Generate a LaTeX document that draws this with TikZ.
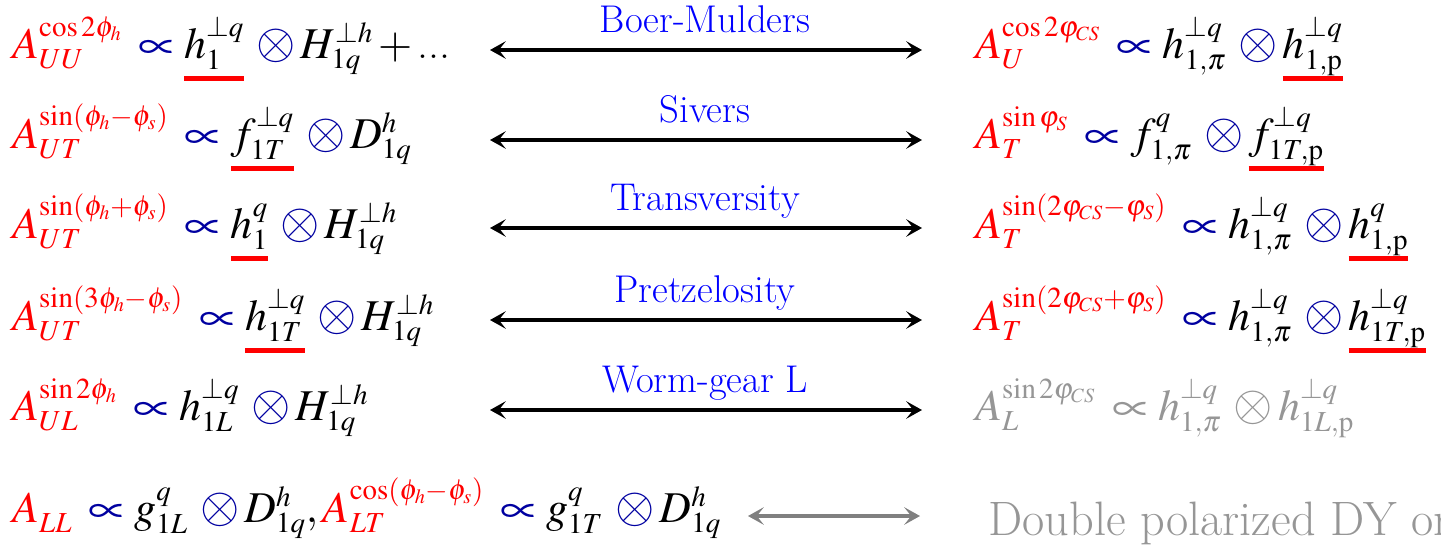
\documentclass[tikz,border=0pt]{standalone}
\usepackage{mathptmx}
\usepackage{xcolor}
\usepackage{graphicx}
\usetikzlibrary{arrows.meta}

\DeclareMathSizes{25}{25}{16.5}{11.5}
\medmuskip=2mu\relax
\thickmuskip=3.5mu\relax
\definecolor{labblue}{RGB}{0,0,255}
\definecolor{symblue}{RGB}{0,0,160}
\definecolor{asym}{RGB}{255,0,0}
\definecolor{fadegray}{RGB}{150,150,150}
\definecolor{linkgray}{RGB}{128,128,128}

% coloured symbols of the formulas
\newcommand{\pc}{\mkern3mu\mathrel{\textcolor{symblue}{\scalebox{1.2}[1.0]{$\propto$}}}}
\newcommand{\ox}{\mkern3mu\mathbin{\textcolor{symblue}{\scalebox{1.15}{$\otimes$}}}}
\newcommand{\Aa}[2]{{\color{asym}A_{#1}^{#2}}}
% red bar under a TMD
\newcommand{\ulr}[1]{\setbox0\hbox{$#1$}\dp0=0pt
  \vtop{\copy0\nointerlineskip\kern0.42em\hbox{\color{asym}\rule{\wd0}{2.5pt}}}}

\begin{document}
\begin{tikzpicture}[x=0.02cm, y=-0.02cm,
  formula/.style={anchor=base west, inner sep=0pt, font=\fontsize{25}{30}\selectfont},
  effect/.style={anchor=base, inner sep=0pt, text=labblue, font=\fontsize{22}{26}\selectfont},
  link/.style={{Stealth[length=9pt,width=10pt,inset=4pt]}-{Stealth[length=9pt,width=10pt,inset=4pt]}, line width=2.3pt}]
  \useasboundingbox (0,0) rectangle (1441,555);
  \clip (0,0) rectangle (1441,555);

  % SIDIS side
  \node[formula] (sidis1) at (12,58)
    {$\Aa{UU}{\cos 2\phi_h} \pc \ulr{h_1^{\perp q}} \ox H_{1q}^{\perp h} + \mbox{...}$};
  \node[formula] (sidis2) at (12,148)
    {$\Aa{UT}{\sin(\phi_h-\phi_s)} \pc \ulr{f_{1T}^{\perp q}} \ox D_{1q}^h$};
  \node[formula] (sidis3) at (12,238)
    {$\Aa{UT}{\sin(\phi_h+\phi_s)} \pc \ulr{h_1^q} \ox H_{1q}^{\perp h}$};
  \node[formula] (sidis4) at (12,330)
    {$\Aa{UT}{\sin(3\phi_h-\phi_s)} \pc \ulr{h_{1T}^{\perp q}} \ox H_{1q}^{\perp h}$};
  \node[formula] (sidis5) at (12,420)
    {$\Aa{UL}{\sin 2\phi_h} \pc h_{1L}^{\perp q} \ox H_{1q}^{\perp h}$};
  \node[formula] (sidis6) at (12,522)
    {$\Aa{LL}{} \pc g_{1L}^q \ox D_{1q}^h, \Aa{LT}{\cos(\phi_h-\phi_s)} \pc g_{1T}^q \ox D_{1q}^h$};

  % Drell-Yan side
  \node[formula] (dy1) at (975,58)
    {$\Aa{U}{\cos 2\varphi_{CS}} \pc h_{1,\pi}^{\perp q} \ox \ulr{h_{1,\mathrm{p}}^{\perp q}}$};
  \node[formula] (dy2) at (975,148)
    {$\Aa{T}{\sin\varphi_S} \pc f_{1,\pi}^q \ox \ulr{f_{1T,\mathrm{p}}^{\perp q}}$};
  \node[formula] (dy3) at (975,238)
    {$\Aa{T}{\sin(2\varphi_{CS}-\varphi_S)} \pc h_{1,\pi}^{\perp q} \ox \ulr{h_{1,\mathrm{p}}^q}$};
  \node[formula] (dy4) at (975,330)
    {$\Aa{T}{\sin(2\varphi_{CS}+\varphi_S)} \pc h_{1,\pi}^{\perp q} \ox \ulr{h_{1T,\mathrm{p}}^{\perp q}}$};
  \node[formula, text=fadegray] (dy5) at (975,420)
    {\colorlet{asym}{fadegray}\colorlet{symblue}{fadegray}%
     $\Aa{L}{\sin 2\varphi_{CS}} \pc h_{1,\pi}^{\perp q} \ox h_{1L,\mathrm{p}}^{\perp q}$};
  \node[formula, text=fadegray] (dy6) at (988,535)
    {\fontsize{27.5}{32}\selectfont Double polarized DY on};

  % links with the effect names
  \foreach \n/\y/\name in {1/50/Boer-Mulders, 2/140/Sivers, 3/228/Transversity,
                           4/320/Pretzelosity, 5/410/Worm-gear L}{
    \coordinate (from\n) at (490,\y);
    \coordinate (to\n) at (922,\y);
    \draw[link] (from\n) -- (to\n);
    \node[effect] (name\n) at (705,\y-18) {\name};
  }
  \coordinate (from6) at (748,516);
  \coordinate (to6) at (920,516);
  \draw[link, linkgray] (from6) -- (to6);
\end{tikzpicture}
\end{document}
